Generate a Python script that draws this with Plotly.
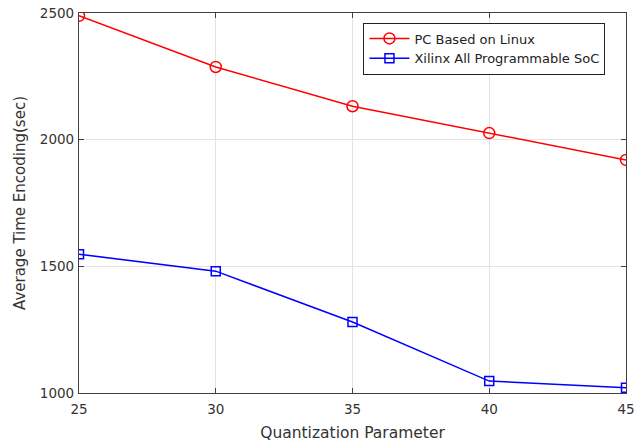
import plotly.graph_objects as go

qp = [25, 30, 35, 40, 45]
pc_linux = [2489, 2287, 2132, 2026, 1920]
xilinx_soc = [1548, 1481, 1280, 1047, 1021]

x_ticks = [25, 30, 35, 40, 45]
y_ticks = [1000, 1500, 2000, 2500]

FONT = "DejaVu Sans, Liberation Sans, Arial"

fig = go.Figure()
fig.add_trace(go.Scatter(
    x=qp, y=pc_linux, mode="lines+markers", name="PC Based on Linux",
    line=dict(color="#ff0000", width=1.5),
    marker=dict(symbol="circle-open", size=11, color="#ff0000", line=dict(width=1.5)),
))
fig.add_trace(go.Scatter(
    x=qp, y=xilinx_soc, mode="lines+markers", name="Xilinx All Programmable SoC",
    line=dict(color="#0000ff", width=1.5),
    marker=dict(symbol="square-open", size=9, color="#0000ff", line=dict(width=1.5)),
))

axis_common = dict(
    showline=True, linecolor="#404040", linewidth=1.2, mirror="ticks",
    ticks="inside", ticklen=5, tickcolor="#404040",
    showgrid=True, gridcolor="#e3e3e3", gridwidth=1,
    zeroline=False, automargin=False,
    tickfont=dict(family=FONT, size=13.5, color="#333333"),
)

fig.update_layout(
    template="none",
    width=635, height=443,
    margin=dict(l=79, r=9, t=13, b=50),
    paper_bgcolor="white", plot_bgcolor="white",
    font=dict(family=FONT, color="#333333"),
    xaxis=dict(
        range=[25, 45], tickvals=x_ticks, ticklabelstandoff=4,
        title=dict(text="Quantization Parameter", font=dict(size=15.5), standoff=10),
        **axis_common,
    ),
    yaxis=dict(
        range=[1000, 2500], tickvals=y_ticks, ticklabelstandoff=1,
        title=dict(text="Average Time Encoding(sec)", font=dict(size=15), standoff=10),
        **axis_common,
    ),
    legend=dict(
        x=0.52, y=0.975, xanchor="left", yanchor="top",
        bordercolor="#222222", borderwidth=1, bgcolor="white",
        font=dict(family=FONT, size=13, color="#222222"),
        tracegroupgap=0, itemwidth=40,
    ),
    showlegend=True,
)

fig.write_html("out.html")
